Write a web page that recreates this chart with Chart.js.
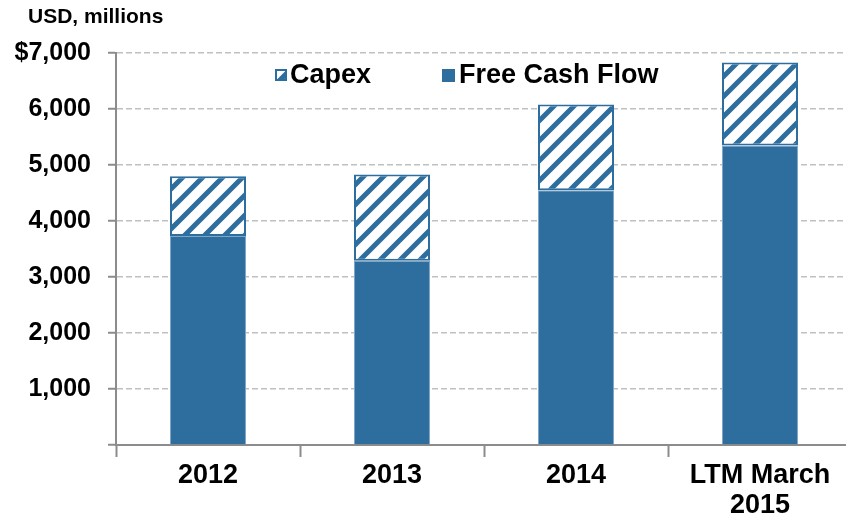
<!DOCTYPE html>
<html lang="en">
<head>
    <meta charset="UTF-8">
    <title>Free Cash Flow and Capex</title>
    <script src="https://cdn.jsdelivr.net/npm/chart.js"></script>
    <style>
        body { margin: 0; overflow: hidden; background: #fff; }
        #wrap { width: 852px; height: 522px; }
    </style>
</head>
<body>
    <div id="wrap">
        <canvas id="fcfChart"></canvas>
    </div>
    <script>
        const categories = ['2012', '2013', '2014', ['LTM March', '2015']];
        const freeCashFlow = [3730, 3290, 4550, 5350];
        const capex = [1070, 1540, 1530, 1480];
        const yTicks = [0, 1000, 2000, 3000, 4000, 5000, 6000, 7000];

        const blue = '#2D6E9F';
        const axisGray = '#8C8C8C';
        const fontFamily = '"Liberation Sans", Arial, sans-serif';

        // diagonal hatch for capex
        function makeHatch() {
            const p = 20;
            const c = document.createElement('canvas');
            c.width = p; c.height = p;
            const g = c.getContext('2d');
            g.fillStyle = '#fff';
            g.fillRect(0, 0, p, p);
            g.strokeStyle = blue;
            g.lineWidth = 5;
            g.beginPath();
            g.moveTo(-2, p + 2); g.lineTo(p + 2, -2);
            g.moveTo(-2, 2); g.lineTo(2, -2);
            g.moveTo(p - 2, p + 2); g.lineTo(p + 2, p - 2);
            g.stroke();
            return g.createPattern(c, 'repeat');
        }
        const hatch = makeHatch();

        const extras = {
            id: 'extras',
            afterDraw(chart) {
                const ctx = chart.ctx;
                ctx.save();
                ctx.fillStyle = '#000';
                ctx.textBaseline = 'middle';
                ctx.font = 'bold 21px ' + fontFamily;
                ctx.fillText('USD, millions', 28, 17);

                // legend
                ctx.fillStyle = hatch;
                ctx.fillRect(275, 69, 12, 12);
                ctx.strokeStyle = blue;
                ctx.lineWidth = 2;
                ctx.strokeRect(276, 70, 10, 10);
                ctx.fillStyle = blue;
                ctx.fillRect(442, 69, 13, 13);
                ctx.fillStyle = '#000';
                ctx.font = 'bold 27px ' + fontFamily;
                ctx.fillText('Capex', 290, 76);
                ctx.fillText('Free Cash Flow', 459, 76);
                ctx.restore();
            }
        };

        const ctx = document.getElementById('fcfChart').getContext('2d');
        const chart = new Chart(ctx, {
            type: 'bar',
            data: {
                labels: categories,
                datasets: [{
                    label: 'Free Cash Flow',
                    data: freeCashFlow,
                    backgroundColor: blue,
                    borderColor: '#7FA6C8',
                    borderWidth: 1,
                    categoryPercentage: 1,
                    barPercentage: 0.413
                }, {
                    label: 'Capex',
                    data: capex,
                    backgroundColor: hatch,
                    borderColor: blue,
                    borderWidth: 2,
                    borderSkipped: false,
                    categoryPercentage: 1,
                    barPercentage: 0.413
                }]
            },
            options: {
                responsive: true,
                maintainAspectRatio: false,
                animation: false,
                layout: { padding: { top: 53, right: 0, left: 0, bottom: 0 } },
                plugins: {
                    legend: { display: false },
                    tooltip: { enabled: false }
                },
                scales: {
                    x: {
                        stacked: true,
                        grid: {
                            offset: true,
                            drawOnChartArea: false,
                            tickLength: 12,
                            tickColor: axisGray,
                            tickWidth: 2
                        },
                        border: { color: axisGray, width: 2 },
                        ticks: {
                            color: '#000',
                            padding: 4,
                            maxRotation: 0,
                            font: { family: fontFamily, size: 27, weight: 'bold', lineHeight: 1.1 }
                        },
                        afterFit(scale) { scale.height = 77; }
                    },
                    y: {
                        stacked: true,
                        min: 0,
                        max: 7000,
                        afterBuildTicks(scale) {
                            scale.ticks = yTicks.map(v => ({ value: v }));
                        },
                        grid: {
                            color: c => c.tick && c.tick.value === 0 ? 'rgba(0,0,0,0)' : '#C0C0C0',
                            lineWidth: 1.5,
                            tickLength: 8,
                            tickColor: axisGray,
                            tickWidth: 2
                        },
                        border: { color: axisGray, width: 2, dash: [6, 3] },
                        ticks: {
                            color: '#000',
                            padding: 17,
                            font: { family: fontFamily, size: 25, weight: 'bold' },
                            callback: v => v === 0 ? '' : (v === 7000 ? '$' : '') + v.toLocaleString('en-US')
                        },
                        afterFit(scale) { scale.width = 116; }
                    }
                }
            },
            plugins: [extras]
        });
    </script>
</body>
</html>
